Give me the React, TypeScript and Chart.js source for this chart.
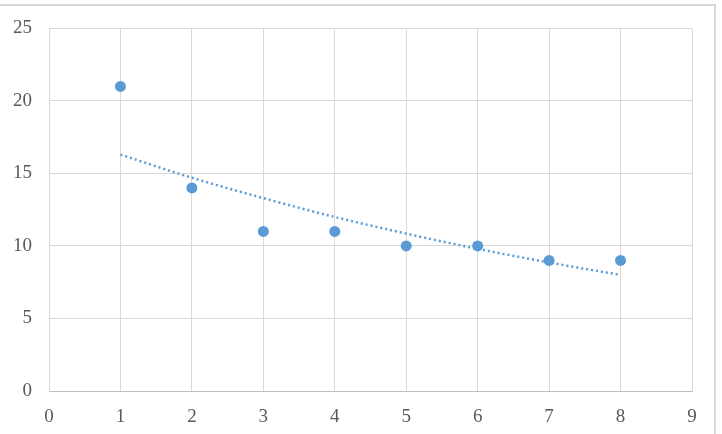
import React, { useEffect, useRef } from "react";
import { Chart, registerables } from "chart.js";

Chart.register(...registerables);

const xValues = [1, 2, 3, 4, 5, 6, 7, 8];
const yValues = [21, 14, 11, 11, 10, 10, 9, 9];
const trendValues = [16.3, 14.7, 13.3, 12.0, 10.85, 9.8, 8.86, 8.0];
const xTicks = [0, 1, 2, 3, 4, 5, 6, 7, 8, 9];
const yTicks = [0, 5, 10, 15, 20, 25];

export default function App() {
  const ref = useRef<HTMLCanvasElement>(null);
  useEffect(() => {
    const font = { family: "'Liberation Serif', 'Times New Roman', serif", size: 19 };
    const chart = new Chart(ref.current!, {
      type: "scatter",
      data: {
        datasets: [
          {
            type: "line",
            data: xValues.map((x, i) => ({ x, y: trendValues[i] })),
            borderColor: "#5b9bd5",
            borderWidth: 2.5,
            borderDash: [2, 3],
            pointRadius: 0,
            fill: false,
            tension: 0.4,
            cubicInterpolationMode: "monotone",
          },
          {
            type: "scatter",
            data: xValues.map((x, i) => ({ x, y: yValues[i] })),
            backgroundColor: "#5b9bd5",
            borderColor: "#5b9bd5",
            pointRadius: 5.5,
            pointBorderWidth: 0,
          },
        ],
      },
      options: {
        animation: false,
        responsive: false,
        maintainAspectRatio: false,
        layout: { padding: { top: 28, right: 30, left: 0, bottom: 0 } },
        plugins: { legend: { display: false }, tooltip: { enabled: false } },
        scales: {
          x: {
            type: "linear",
            min: 0,
            max: 9,
            afterBuildTicks: (s: any) => {
              s.ticks = xTicks.map((v) => ({ value: v }));
            },
            afterFit: (s: any) => {
              s.height = 43;
            },
            ticks: { font, color: "#595959", padding: 15 },
            grid: { color: "#d9d9d9", drawTicks: false, lineWidth: 1 },
            border: { color: "#bfbfbf" },
          },
          y: {
            type: "linear",
            min: 0,
            max: 25,
            afterBuildTicks: (s: any) => {
              s.ticks = yTicks.map((v) => ({ value: v }));
            },
            afterFit: (s: any) => {
              s.width = 49;
            },
            ticks: { font, color: "#595959", padding: 17 },
            grid: { color: "#d9d9d9", drawTicks: false, lineWidth: 1 },
            border: { color: "#d9d9d9" },
          },
        },
      },
    } as any);
    return () => chart.destroy();
  }, []);
  return (
    <div style={{ position: "fixed", left: 0, top: 0, width: 722, height: 434, background: "#fff", overflow: "hidden" }}>
      <div
        style={{
          position: "absolute",
          left: -10,
          top: 4,
          width: 726,
          height: 500,
          borderTop: "2px solid #d9d9d9",
          borderRight: "2px solid #d9d9d9",
          boxSizing: "border-box",
        }}
      />
      <canvas ref={ref} width={722} height={434} style={{ position: "absolute", left: 0, top: 0, width: 722, height: 434 }} />
    </div>
  );
}
